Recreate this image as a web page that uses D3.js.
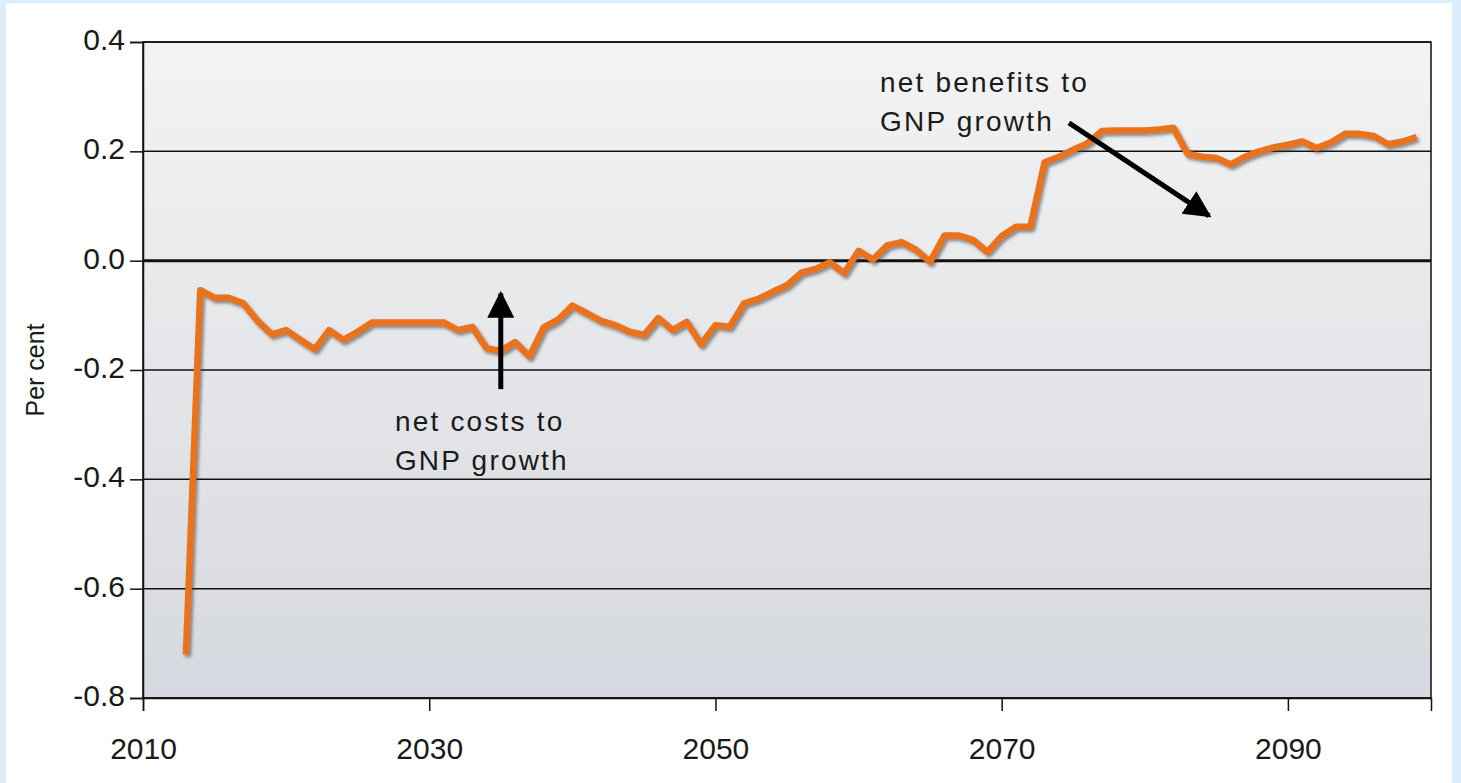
<!DOCTYPE html>
<html>
<head>
<meta charset="utf-8">
<script src="https://cdn.jsdelivr.net/npm/d3@7"></script>
<style>
  html, body { margin: 0; padding: 0; background: #ffffff; }
  svg { display: block; }
  text { font-family: "Liberation Sans", Arial, Helvetica, sans-serif; fill: #1a1a1a; }
</style>
</head>
<body>
<svg id="chart" width="1461" height="783"></svg>
<script>
const years = [2013,2014,2015,2016,2017,2018,2019,2020,2021,2022,2023,2024,2025,2026,2027,2028,2029,2030,
  2031,2032,2033,2034,2035,2036,2037,2038,2039,2040,2041,2042,2043,2044,2045,2046,2047,2048,2049,2050,
  2051,2052,2053,2054,2055,2056,2057,2058,2059,2060,2061,2062,2063,2064,2065,2066,2067,2068,2069,2070,
  2071,2072,2073,2074,2075,2076,2077,2078,2079,2080,2081,2082,2083,2084,2085,2086,2087,2088,2089,2090,
  2091,2092,2093,2094,2095,2096,2097,2098,2099];
const values = [-0.72,-0.054,-0.068,-0.068,-0.078,-0.11,-0.135,-0.127,-0.145,-0.162,-0.127,-0.145,-0.13,-0.113,-0.113,-0.113,-0.113,-0.113,
  -0.113,-0.127,-0.121,-0.16,-0.165,-0.149,-0.175,-0.122,-0.108,-0.082,-0.096,-0.11,-0.118,-0.13,-0.136,-0.105,-0.127,-0.112,-0.153,-0.118,
  -0.121,-0.078,-0.07,-0.057,-0.045,-0.022,-0.015,-0.003,-0.023,0.018,0.002,0.028,0.034,0.02,-0.002,0.046,0.046,0.038,0.016,0.045,
  0.062,0.062,0.18,0.19,0.203,0.215,0.237,0.238,0.238,0.238,0.24,0.243,0.195,0.19,0.188,0.176,0.19,0.2,0.207,0.212,
  0.218,0.206,0.216,0.232,0.232,0.228,0.213,0.218,0.226];
const xTicks = [2010, 2030, 2050, 2070, 2090];
const yTicks = [-0.8, -0.6, -0.4, -0.2, 0.0, 0.2, 0.4];
const yTitle = "Per cent";
const annotations = [
  { lines: ["net costs to", "GNP growth"], year: 2027.6, value: -0.312, from: [2035.0, -0.235], to: [2035.0, -0.06] },
  { lines: ["net benefits to", "GNP growth"], year: 2061.5, value: 0.308, from: [2074.7, 0.252], to: [2084.5, 0.082] }
];

const W = 1461, H = 783;
const mLeft = 143, mRight = 1431, mTop = 42, mBottom = 698;

const svg = d3.select("#chart");
const defs = svg.append("defs");

const grad = defs.append("linearGradient").attr("id", "bg").attr("x1", 0).attr("y1", 0).attr("x2", 0).attr("y2", 1);
grad.append("stop").attr("offset", "0%").attr("stop-color", "#f3f3f4");
grad.append("stop").attr("offset", "35%").attr("stop-color", "#e9eaec");
grad.append("stop").attr("offset", "100%").attr("stop-color", "#d5d8de");

const shadow = defs.append("filter").attr("id", "shadow").attr("x", "-10%").attr("y", "-10%").attr("width", "120%").attr("height", "120%");
shadow.append("feDropShadow").attr("dx", 2).attr("dy", 2.5).attr("stdDeviation", 1.6)
  .attr("flood-color", "#3a3a3a").attr("flood-opacity", 0.55);

const marker = defs.append("marker").attr("id", "arrowhead")
  .attr("viewBox", "0 0 10 10").attr("refX", 9).attr("refY", 5)
  .attr("markerUnits", "userSpaceOnUse").attr("markerWidth", 27).attr("markerHeight", 27)
  .attr("orient", "auto");
marker.append("path").attr("d", "M0,0 L10,5 L0,10 Z").attr("fill", "#000");

// page frame
svg.append("rect").attr("x", 0).attr("y", 0).attr("width", W).attr("height", H).attr("fill", "#dcedfb");
svg.append("rect").attr("x", 6).attr("y", 3).attr("width", W - 15).attr("height", H - 3).attr("fill", "#ffffff");

const x = d3.scaleLinear().domain([2010, 2100]).range([mLeft, mRight]);
const y = d3.scaleLinear().domain([-0.8, 0.4]).range([mBottom, mTop]);

// plot background
svg.append("rect").attr("x", mLeft).attr("y", mTop).attr("width", mRight - mLeft).attr("height", mBottom - mTop)
  .attr("fill", "url(#bg)");

// gridlines
svg.append("g").selectAll("line").data(yTicks).join("line")
  .attr("x1", mLeft).attr("x2", mRight)
  .attr("y1", d => y(d)).attr("y2", d => y(d))
  .attr("stroke", "#111").attr("stroke-width", d => d === 0 ? 3 : 1.5);

// border
svg.append("rect").attr("x", mLeft).attr("y", mTop).attr("width", mRight - mLeft).attr("height", mBottom - mTop)
  .attr("fill", "none").attr("stroke", "#111").attr("stroke-width", 1.5);

// y axis
const fmtY = d => d3.format(".1f")(d).replace("\u2212", "-");
const yAxis = svg.append("g").attr("transform", `translate(${mLeft},0)`)
  .call(d3.axisLeft(y).tickValues(yTicks).tickFormat(fmtY).tickSize(13).tickPadding(5));
yAxis.select(".domain").attr("stroke", "#111").attr("stroke-width", 1.5);
yAxis.selectAll(".tick line").attr("stroke", "#111").attr("stroke-width", 1.5);
yAxis.selectAll(".tick text").attr("font-size", 30).attr("dy", "0.25em").attr("fill", "#1a1a1a")
  .style("font-family", '"Liberation Sans", Arial, sans-serif');

// x axis
const xAxis = svg.append("g").attr("transform", `translate(0,${mBottom})`)
  .call(d3.axisBottom(x).tickValues(xTicks).tickFormat(d3.format("d")).tickSize(13).tickPadding(27));
xAxis.select(".domain").attr("stroke", "#111").attr("stroke-width", 1.5);
xAxis.selectAll(".tick line").attr("stroke", "#111").attr("stroke-width", 1.5);
xAxis.selectAll(".tick text").attr("font-size", 30).attr("fill", "#1a1a1a")
  .style("font-family", '"Liberation Sans", Arial, sans-serif');

// y title
svg.append("text").attr("transform", `translate(44,370) rotate(-90)`)
  .attr("text-anchor", "middle").attr("font-size", 25).text(yTitle);

// data line
const data = years.map((yr, i) => ({ yr, v: values[i] }));
svg.append("path").datum(data)
  .attr("fill", "none").attr("stroke", "#e9721f").attr("stroke-width", 6.5)
  .attr("stroke-linejoin", "round").attr("stroke-linecap", "butt")
  .attr("filter", "url(#shadow)")
  .attr("d", d3.line().x(d => x(d.yr)).y(d => y(d.v)));

// annotations
annotations.forEach(a => {
  const t = svg.append("text").attr("x", x(a.year)).attr("y", y(a.value))
    .attr("font-size", 28).style("letter-spacing", "2.2px").attr("fill", "#1a1a1a");
  a.lines.forEach((ln, i) => {
    t.append("tspan").attr("x", x(a.year)).attr("dy", i === 0 ? 0 : 39).text(ln);
  });
  svg.append("line")
    .attr("x1", x(a.from[0])).attr("y1", y(a.from[1]))
    .attr("x2", x(a.to[0])).attr("y2", y(a.to[1]))
    .attr("stroke", "#000").attr("stroke-width", 5)
    .attr("marker-end", "url(#arrowhead)");
});
</script>
</body>
</html>
